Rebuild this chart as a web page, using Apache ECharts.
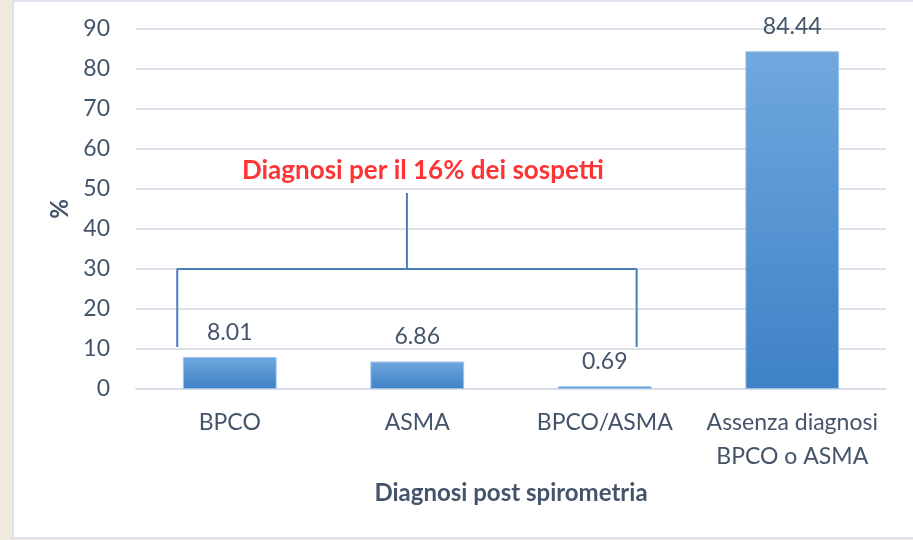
<!DOCTYPE html>
<html>
<head>
<meta charset="utf-8">
<script src="https://cdn.jsdelivr.net/npm/echarts@6/dist/echarts.min.js"></script>
<style>
  html, body { margin: 0; padding: 0; background: #efe9de; }
  #main { width: 913px; height: 540px; }
</style>
</head>
<body>
<div id="main"></div>
<script>
// dati
var categorie = ['BPCO', 'ASMA', 'BPCO/ASMA', 'Assenza diagnosi\nBPCO o ASMA'];
var valori = [8.01, 6.86, 0.69, 84.44];
var yTicks = [0, 90, 10];
// parentesi "Diagnosi per il 16%" in coordinate (posizione categoria, %)
var parentesi = [[0.22, 10.5], [0.22, 30], [2.67, 30], [2.67, 10.5]];
var stelo = [[1.445, 30], [1.445, 49]];
var notaTesto = 'Diagnosi per il 16% dei sospetti';
var notaPos = [1.53, 54.5];

var testo = '#44546a';
var font = 'Lato';

var chart = echarts.init(document.getElementById('main'));
var option = {
  backgroundColor: '#efe9de',
  textStyle: { fontFamily: font },
  graphic: [{
    type: 'rect',
    z: -10,
    shape: { x: 13, y: 1, width: 905, height: 537 },
    style: { fill: '#ffffff', stroke: '#dde3ea', lineWidth: 2 }
  }],
  grid: { left: 136, right: 27, top: 29, bottom: 151 },
  xAxis: [{
    type: 'category',
    data: categorie,
    name: 'Diagnosi post spirometria',
    nameLocation: 'middle',
    nameGap: 92,
    nameTextStyle: { color: testo, fontSize: 24, fontWeight: 'bold', fontFamily: font },
    axisLine: { lineStyle: { color: '#d9dee6', width: 2 } },
    axisTick: { show: false },
    axisLabel: {
      interval: 0,
      hideOverlap: false,
      color: testo,
      fontSize: 23,
      margin: 17,
      lineHeight: 34,
      fontFamily: font
    }
  }, {
    type: 'value',
    min: 0,
    max: 4,
    show: false
  }],
  yAxis: {
    type: 'value',
    min: yTicks[0],
    max: yTicks[1],
    interval: yTicks[2],
    name: '%',
    nameLocation: 'middle',
    nameGap: 62,
    nameTextStyle: { color: testo, fontSize: 24, fontWeight: 'bold', fontFamily: font },
    axisLine: { show: false },
    axisTick: { show: false },
    axisLabel: { color: testo, fontSize: 23, margin: 26, fontFamily: font },
    splitLine: { lineStyle: { color: '#dde2ea', width: 2 } }
  },
  series: [{
    type: 'bar',
    data: valori,
    barWidth: '50%',
    itemStyle: {
      color: new echarts.graphic.LinearGradient(0, 0, 0, 1, [
        { offset: 0, color: '#70a8de' },
        { offset: 1, color: '#3e81c6' }
      ]),
      borderColor: '#9cc3ea',
      borderWidth: 1
    },
    label: {
      show: true,
      position: 'top',
      distance: 13,
      color: testo,
      fontSize: 23,
      fontFamily: font,
      formatter: function (p) { return p.value.toFixed(2); }
    }
  }, {
    type: 'line',
    xAxisIndex: 1,
    data: parentesi,
    symbol: 'none',
    silent: true,
    lineStyle: { color: '#4a7ebb', width: 2 }
  }, {
    type: 'line',
    xAxisIndex: 1,
    data: stelo,
    symbol: 'none',
    silent: true,
    lineStyle: { color: '#4a7ebb', width: 2 }
  }, {
    type: 'scatter',
    xAxisIndex: 1,
    data: [notaPos],
    symbolSize: 0,
    silent: true,
    label: {
      show: true,
      position: 'inside',
      formatter: notaTesto,
      color: '#ff0000',
      fontSize: 26,
      fontWeight: 'bold',
      fontFamily: font
    }
  }]
};
chart.setOption(option);
</script>
</body>
</html>
